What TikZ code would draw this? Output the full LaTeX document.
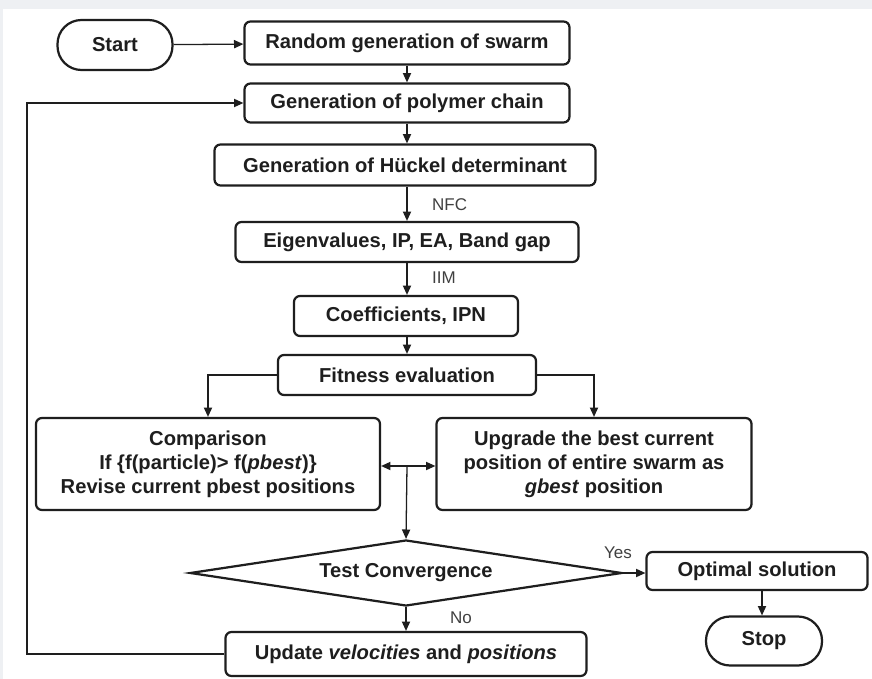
\documentclass[tikz,border=0pt]{standalone}
\usepackage{fontspec}
\setmainfont{Liberation Sans}
\usetikzlibrary{arrows.meta,shapes.geometric}

\definecolor{inkgray}{HTML}{1E1E1E}
\definecolor{labelgray}{HTML}{404040}
\definecolor{framegray}{HTML}{EEF0F3}

\tikzset{
    stepbox/.style={draw=inkgray, line width=1.9pt, rounded corners=0.18cm, align=center,
        text=inkgray, font=\fontsize{17.2}{20.5}\selectfont\bfseries, inner sep=2pt},
    terminal/.style={stepbox, rounded corners=0.72cm},
    decision/.style={draw=inkgray, line width=1.9pt, diamond, aspect=6.5, inner sep=0pt,
        text=inkgray, font=\fontsize{17.2}{20.5}\selectfont\bfseries},
    arr/.style={draw=inkgray, line width=1.1pt, -{Triangle[length=8pt,width=7pt]}},
    tag/.style={text=labelgray, font=\fontsize{14.5}{17}\selectfont}
}

\begin{document}
\begin{tikzpicture}[x=0.03cm, y=-0.03cm]
        % Frame of the page
        \useasboundingbox (0,0) rectangle (872,679);
        \fill[framegray] (0,0) rectangle (872,679);
        \fill[white] (3,9) rectangle (872,679);

        % Main chain of steps
        \node[terminal, minimum width=3.45cm, minimum height=1.5cm] (start) at (115,45) {Start};
        \node[stepbox, minimum width=9.75cm, minimum height=1.29cm] (random) at (407,43) {Random generation of swarm};
        \node[stepbox, minimum width=9.75cm, minimum height=1.17cm] (polymer) at (407,103) {Generation of polymer chain};
        \node[stepbox, minimum width=11.43cm, minimum height=1.23cm] (huckel) at (405,165) {Generation of Hückel determinant};
        \node[stepbox, minimum width=10.29cm, minimum height=1.2cm] (eigen) at (407,242) {Eigenvalues, IP, EA, Band gap};
        \node[stepbox, minimum width=6.72cm, minimum height=1.2cm] (coeff) at (406,316) {Coefficients, IPN};
        \node[stepbox, minimum width=7.74cm, minimum height=1.2cm] (fitness) at (407,375) {Fitness evaluation};

        % The two branches after the evaluation
        \node[stepbox, minimum width=10.32cm, minimum height=2.76cm] (compar) at (208,464)
            {Comparison\\If \{f(particle)> f(\textit{pbest})\}\\Revise current pbest positions};
        \node[stepbox, minimum width=9.45cm, minimum height=2.76cm] (upgrade) at (594,464)
            {Upgrade the best current\\position of entire swarm as\\\textit{gbest} position};

        % Test and the end
        \node[decision, minimum width=12.96cm, minimum height=1.98cm] (test) at (406,573) {Test Convergence};
        \node[stepbox, minimum width=6.63cm, minimum height=1.14cm] (optimal) at (757,571) {Optimal solution};
        \node[terminal, minimum width=3.48cm, minimum height=1.47cm] (stop) at (764,641) {Stop};
        \node[stepbox, minimum width=10.83cm, minimum height=1.32cm] (update) at (406,654)
            {Update \textit{velocities} and \textit{positions}};

        % Connectors
        \draw[arr] (start) -- (random);
        \draw[arr] (random) -- (polymer);
        \draw[arr] (polymer) -- (polymer.south |- huckel.north);
        \draw[arr] (polymer.south |- huckel.south) -- (eigen);
        \draw[arr] (eigen) -- (eigen.south |- coeff.north);
        \draw[arr] (eigen.south |- coeff.south) -- (fitness);
        \draw[arr] (fitness.west) -| (compar.north);
        \draw[arr] (fitness.east) -| (upgrade.north);

        % Junction between the branches
        \coordinate (hub) at (407,466);
        \draw[arr] (hub) -- (compar.east |- hub);
        \draw[arr] (hub) -- (upgrade.west |- hub);
        \draw[arr] (hub) -- (test.north);

        \draw[arr] (test.east) -- (optimal.west |- test.east);
        \draw[arr] (optimal.south -| 762,0) -- (stop.north -| 762,0);
        \draw[arr] (test.south) -- (update.north);

        % Loop back to a new chain
        \coordinate (back) at (27,103);
        \draw[arr] (update.west) -| (back) -- (polymer.west);

        % Labels on the connectors
        \node[tag, anchor=west] (nfc) at (428,205) {NFC};
        \node[tag, anchor=west] (iim) at (428,278) {IIM};
        \node[tag] (yes) at (618,553) {Yes};
        \node[tag] (no) at (461,618) {No};
    \end{tikzpicture}
\end{document}
